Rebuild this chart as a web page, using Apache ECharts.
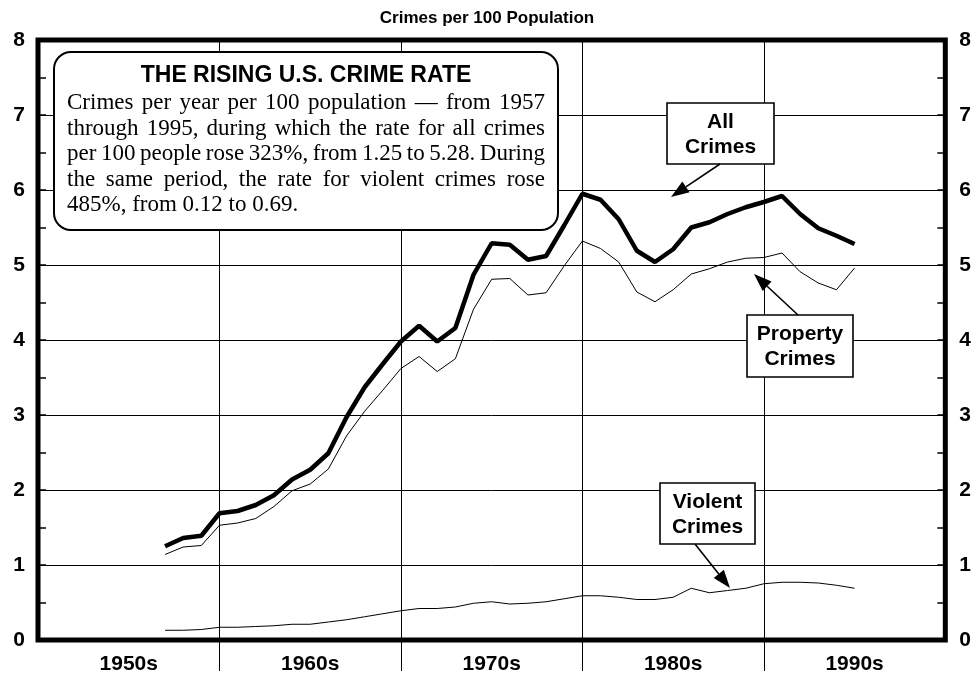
<!DOCTYPE html>
<html>
<head>
<meta charset="UTF-8">
<title>Crimes per 100 Population</title>
<script src="https://cdn.jsdelivr.net/npm/echarts@6/dist/echarts.min.js"></script>
<style>
    html, body {
        margin: 0;
        padding: 0;
        background: #fff;
    }

    #chart {
        width: 974px;
        height: 679px;
    }
</style>
</head>
<body>
<div id="chart"></div>
<script>
    // data
    var years = [1957, 1958, 1959, 1960, 1961, 1962, 1963, 1964, 1965, 1966,
        1967, 1968, 1969, 1970, 1971, 1972, 1973, 1974, 1975, 1976,
        1977, 1978, 1979, 1980, 1981, 1982, 1983, 1984, 1985, 1986,
        1987, 1988, 1989, 1990, 1991, 1992, 1993, 1994, 1995];

    var allCrimes = [1.25, 1.36, 1.39, 1.69, 1.72, 1.80, 1.93, 2.14, 2.27, 2.49,
        2.97, 3.37, 3.68, 3.98, 4.19, 3.98, 4.16, 4.87, 5.29, 5.27,
        5.07, 5.12, 5.53, 5.95, 5.87, 5.61, 5.19, 5.04, 5.21, 5.50,
        5.57, 5.68, 5.77, 5.84, 5.92, 5.68, 5.49, 5.39, 5.28];

    var propertyCrimes = [1.14, 1.24, 1.26, 1.53, 1.56, 1.62, 1.78, 1.99, 2.08, 2.28,
        2.72, 3.05, 3.33, 3.62, 3.78, 3.58, 3.75, 4.41, 4.81, 4.82,
        4.60, 4.63, 4.99, 5.32, 5.22, 5.04, 4.64, 4.51, 4.67, 4.88,
        4.95, 5.04, 5.09, 5.10, 5.16, 4.91, 4.76, 4.67, 4.96];

    var violentCrimes = [0.13, 0.13, 0.14, 0.17, 0.17, 0.18, 0.19, 0.21, 0.21, 0.24,
        0.27, 0.31, 0.35, 0.39, 0.42, 0.42, 0.44, 0.49, 0.51, 0.48,
        0.49, 0.51, 0.55, 0.59, 0.59, 0.57, 0.54, 0.54, 0.57, 0.69,
        0.63, 0.66, 0.69, 0.75, 0.77, 0.77, 0.76, 0.73, 0.69];

    var decadeLabels = ['1950s', '1960s', '1970s', '1980s', '1990s'];
    var decadeCenters = [1955, 1965, 1975, 1985, 1995];
    var decadeMarks = [1960, 1970, 1980, 1990];

    var noteTitle = 'THE RISING U.S. CRIME RATE';
    var noteLines = [
        'Crimes per year per 100 population \u2014 from 1957',
        'through 1995, during which the rate for all crimes',
        'per 100 people rose 323%, from 1.25 to 5.28. During',
        'the same period, the rate for violent crimes rose',
        '485%, from 0.12 to 0.69.'
    ];

    var sans = '"Liberation Sans", Arial, sans-serif';
    var serif = '"Liberation Serif", "Times New Roman", serif';

    function pairs(values) {
        return years.map(function (y, i) {
            return [y, values[i]];
        });
    }

    // lay out one justified line of the note, word by word
    var measure = document.createElement('canvas').getContext('2d');

    function noteLine(text, x0, x1, y, font, justify) {
        measure.font = font;
        var words = text.split(' ');
        var widths = words.map(function (w) {
            return measure.measureText(w).width;
        });
        var total = widths.reduce(function (a, b) {
            return a + b;
        }, 0);
        var gap = justify ? (x1 - x0 - total) / (words.length - 1) : measure.measureText(' ').width;
        var out = [], x = x0;
        words.forEach(function (w, i) {
            out.push({
                type: 'text', x: x, y: y, z: 101,
                style: {text: w, font: font, fill: '#000', textAlign: 'left', textVerticalAlign: 'middle'}
            });
            x += widths[i] + gap;
        });
        return out;
    }

    function arrow(x1, y1, x2, y2) {
        var dx = x2 - x1, dy = y2 - y1;
        var len = Math.sqrt(dx * dx + dy * dy);
        var ux = dx / len, uy = dy / len;
        var hl = 18, hw = 6.5;
        var bx = x2 - ux * hl, by = y2 - uy * hl;
        return [
            {type: 'line', z: 101, shape: {x1: x1, y1: y1, x2: bx, y2: by}, style: {stroke: '#000', lineWidth: 1.6}},
            {
                type: 'polygon', z: 101,
                shape: {points: [[x2, y2], [bx - uy * hw, by + ux * hw], [bx + uy * hw, by - ux * hw]]},
                style: {fill: '#000'}
            }
        ];
    }

    function labelBox(x, y, w, h, lines) {
        var els = [{
            type: 'rect', z: 100, shape: {x: x, y: y, width: w, height: h},
            style: {fill: '#fff', stroke: '#000', lineWidth: 1.6}
        }];
        lines.forEach(function (t, i) {
            els.push({
                type: 'text', z: 101, x: x + w / 2, y: y + 19 + i * 25,
                style: {
                    text: t, font: 'bold 21px ' + sans, fill: '#000',
                    textAlign: 'center', textVerticalAlign: 'middle'
                }
            });
        });
        return els;
    }

    var graphics = [];
    // note box
    graphics.push({
        type: 'rect', z: 100, shape: {x: 54, y: 52, width: 504, height: 178, r: 17},
        style: {fill: '#fff', stroke: '#000', lineWidth: 2}
    });
    graphics.push({
        type: 'text', z: 101, x: 306, y: 76,
        style: {
            text: noteTitle, font: 'bold 23px ' + sans, fill: '#000',
            textAlign: 'center', textVerticalAlign: 'middle'
        }
    });
    noteLines.forEach(function (t, i) {
        graphics = graphics.concat(noteLine(t, 67, 545, 103 + i * 25.5, '23px ' + serif, i < noteLines.length - 1));
    });

    graphics = graphics.concat(labelBox(667, 103, 107, 61, ['All', 'Crimes']));
    graphics = graphics.concat(arrow(720, 164, 671, 197));
    graphics = graphics.concat(labelBox(747, 315, 106, 62, ['Property', 'Crimes']));
    graphics = graphics.concat(arrow(798, 315, 754, 274));
    graphics = graphics.concat(labelBox(660, 483, 95, 61, ['Violent', 'Crimes']));
    graphics = graphics.concat(arrow(695, 544, 730, 588));

    var yAxisBase = function (pos) {
        return {
            type: 'value',
            position: pos,
            min: 0,
            max: 8,
            interval: 1,
            axisLine: {show: false},
            axisTick: {show: true, inside: true, length: 8, lineStyle: {color: '#000', width: 1.5}},
            minorTick: {show: true, splitNumber: 2, length: 8, lineStyle: {color: '#000', width: 1.5}},
            axisLabel: {
                color: '#000', fontWeight: 'bold', fontSize: 21, fontFamily: sans,
                margin: pos === 'left' ? 13 : 14
            },
            splitLine: {show: pos === 'left', lineStyle: {color: '#000', width: 1}}
        };
    };

    var chart = echarts.init(document.getElementById('chart'), null, {renderer: 'canvas'});
    chart.setOption({
        animation: false,
        backgroundColor: '#fff',
        title: {
            text: 'Crimes per 100 Population',
            left: 'center',
            top: 5,
            textStyle: {color: '#000', fontWeight: 'bold', fontSize: 17, fontFamily: sans}
        },
        grid: {
            left: 38, right: 26, top: 40, bottom: 39,
            show: true, borderColor: '#000', borderWidth: 5, backgroundColor: 'transparent'
        },
        xAxis: {
            type: 'value',
            min: 1950,
            max: 2000,
            interval: 10,
            axisLine: {show: false},
            axisTick: {show: true, customValues: decadeMarks, length: 31, lineStyle: {color: '#000', width: 1}},
            axisLabel: {
                customValues: decadeCenters,
                margin: 14,
                color: '#000', fontWeight: 'bold', fontSize: 21, fontFamily: sans,
                formatter: function (v) {
                    return decadeLabels[Math.floor((v - 1950) / 10)];
                }
            },
            splitLine: {show: true, lineStyle: {color: '#000', width: 1}}
        },
        yAxis: [yAxisBase('left'), yAxisBase('right')],
        series: [
            {
                name: 'All Crimes', type: 'line', data: pairs(allCrimes), showSymbol: false,
                lineStyle: {color: '#000', width: 4.5}, z: 5
            },
            {
                name: 'Property Crimes', type: 'line', data: pairs(propertyCrimes), showSymbol: false,
                lineStyle: {color: '#000', width: 1}, z: 4
            },
            {
                name: 'Violent Crimes', type: 'line', data: pairs(violentCrimes), showSymbol: false,
                lineStyle: {color: '#000', width: 1}, z: 4
            }
        ],
        graphic: graphics
    });
</script>
</body>
</html>
